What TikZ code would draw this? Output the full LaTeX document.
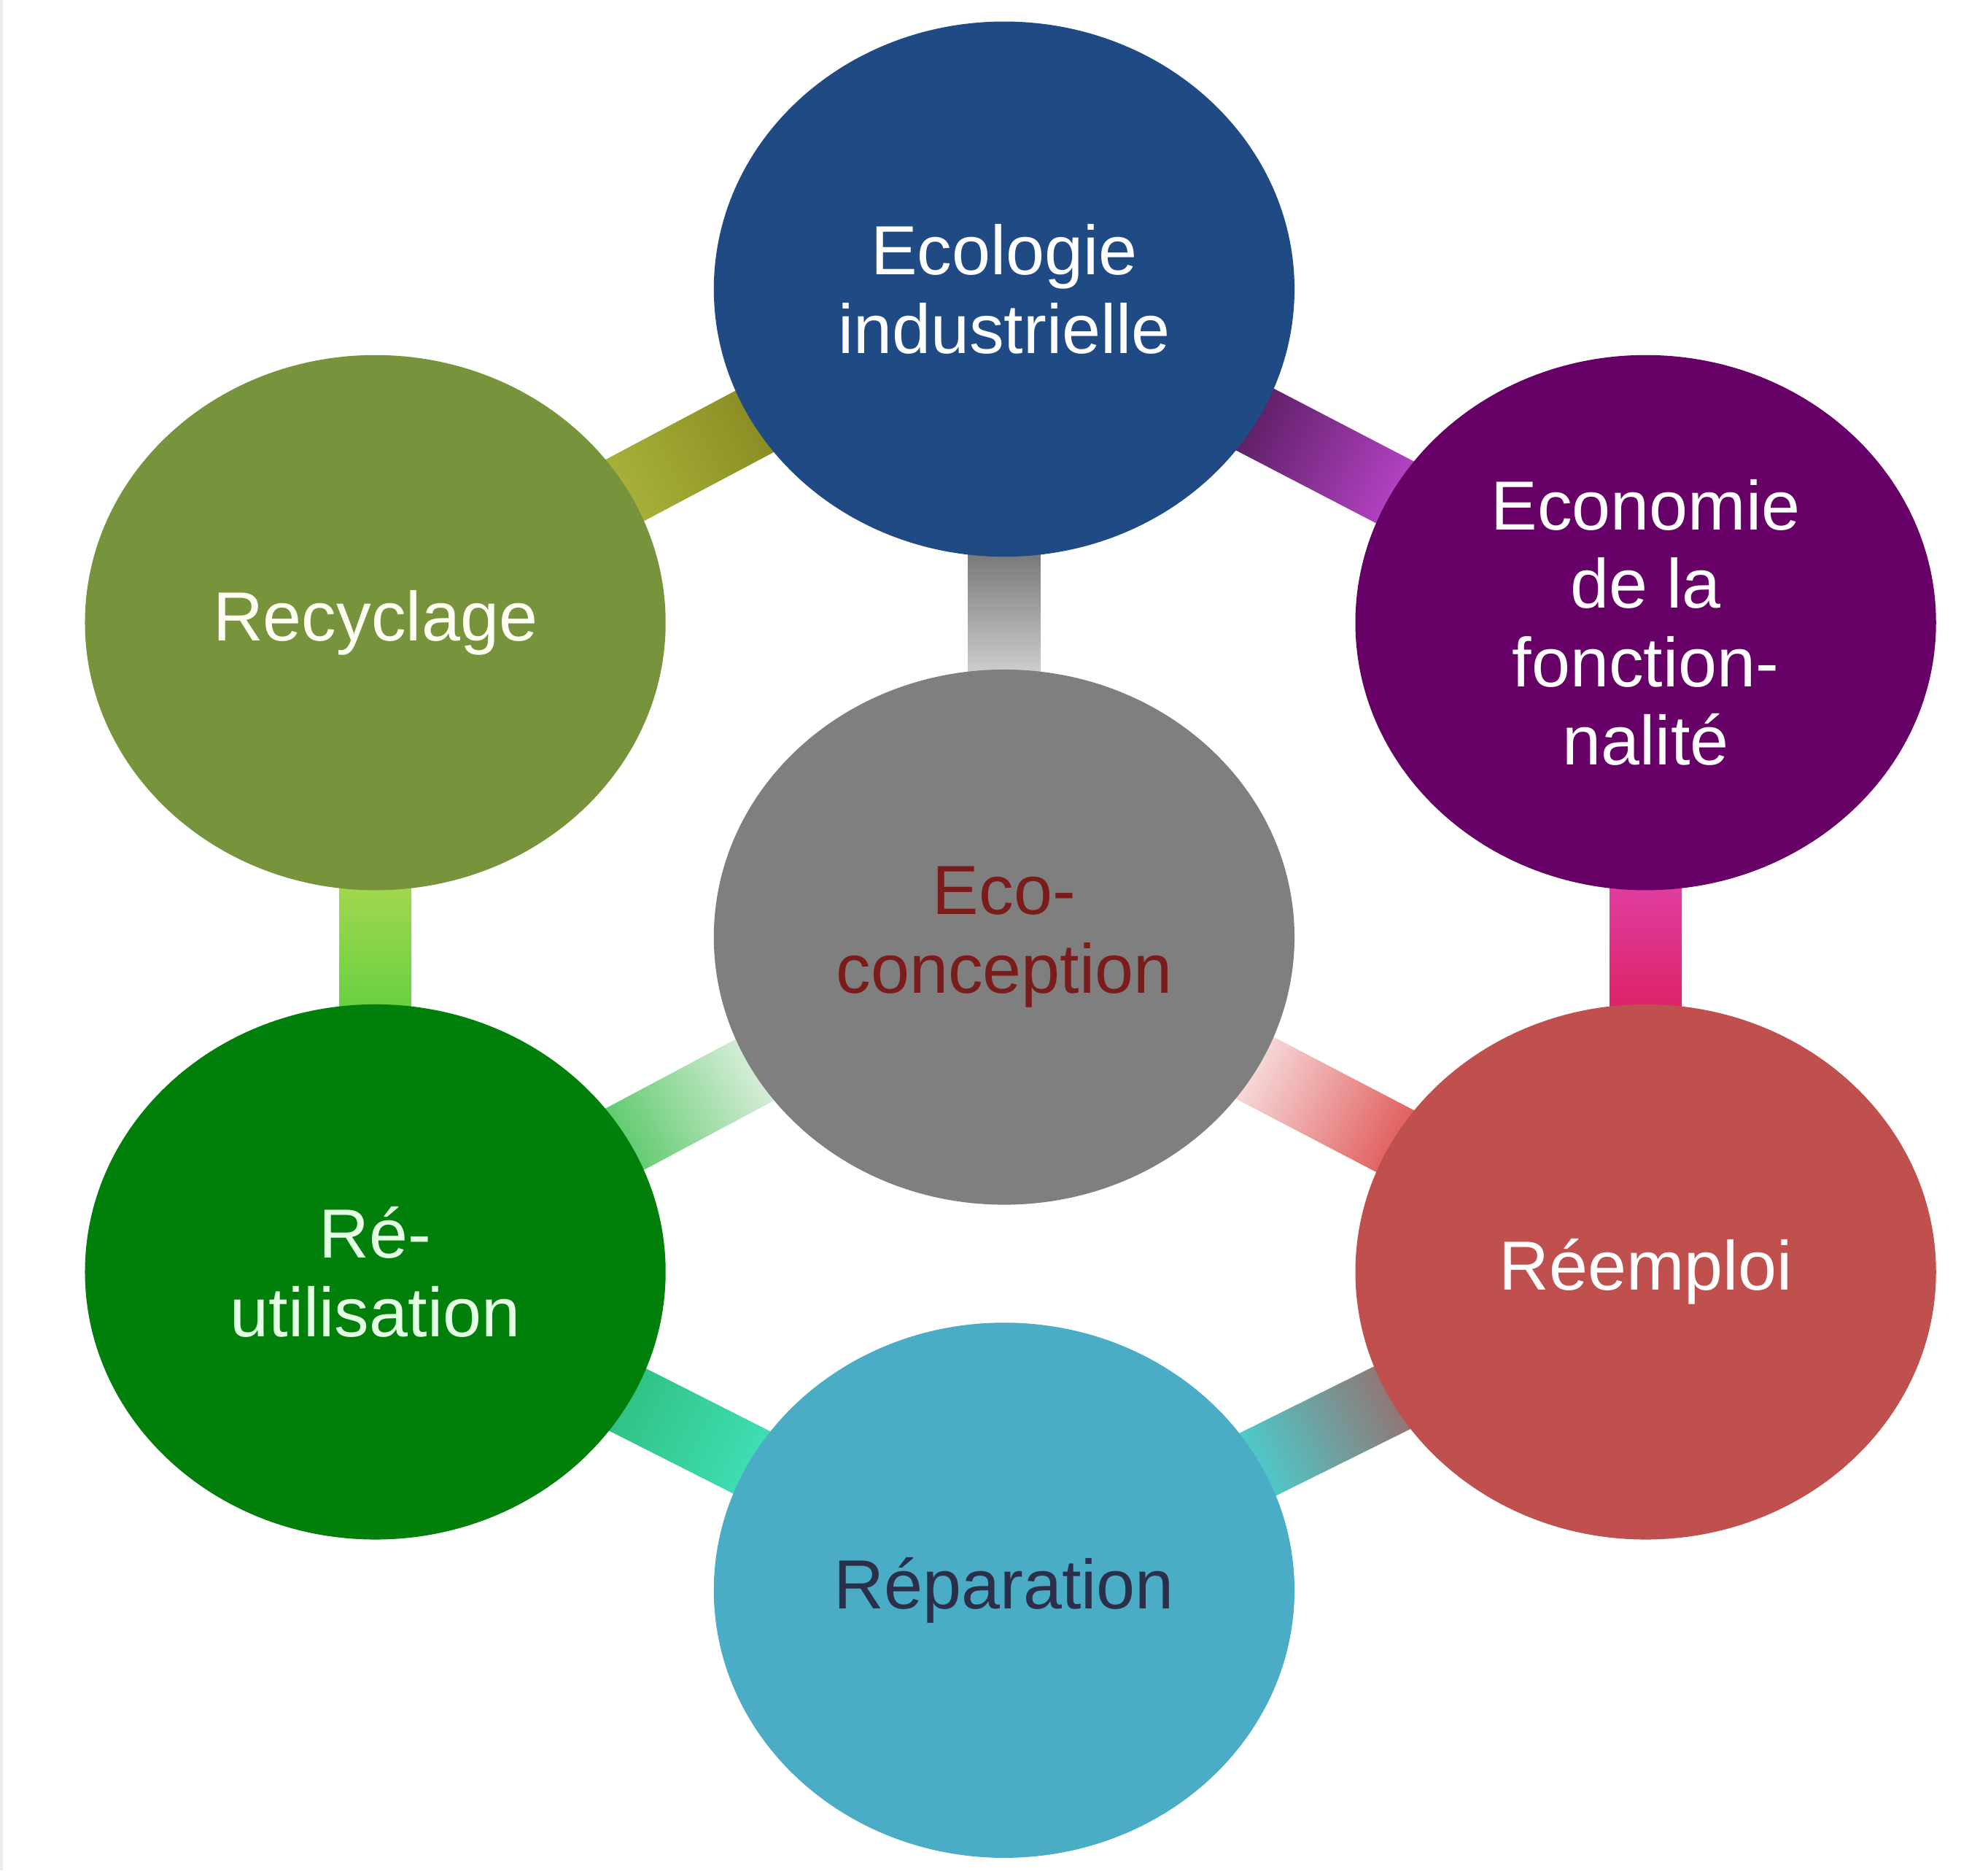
\documentclass[tikz,border=0pt]{standalone}
\usepackage{fontspec}
\setmainfont{Liberation Sans}
\usepackage{xcolor}
\usepackage{tikz}
\usetikzlibrary{calc,shapes.geometric}
\pgfdeclarelayer{background}
\pgfsetlayers{background,main}
\definecolor{ecolblue}{HTML}{1F4A84}
\definecolor{econpurple}{HTML}{660066}
\definecolor{reemred}{HTML}{C0504D}
\definecolor{repaaqua}{HTML}{4BACC6}
\definecolor{reutgreen}{HTML}{00800A}
\definecolor{recyolive}{HTML}{77933C}
\definecolor{ecogray}{HTML}{7F7F7F}
\definecolor{ecotext}{HTML}{7A1C1C}
\definecolor{repatext}{HTML}{2B2F4A}
% bar ends
\definecolor{oliveA}{HTML}{A9B43A}
\definecolor{oliveB}{HTML}{8A8A22}
\definecolor{plumA}{HTML}{5A1E62}
\definecolor{plumB}{HTML}{B844C8}
\definecolor{pinkA}{HTML}{E040A8}
\definecolor{pinkB}{HTML}{DC2060}
\definecolor{rustA}{HTML}{96706E}
\definecolor{rustB}{HTML}{48D0D0}
\definecolor{mintA}{HTML}{40E0B8}
\definecolor{mintB}{HTML}{30C080}
\definecolor{limeA}{HTML}{60D040}
\definecolor{limeB}{HTML}{A8D850}
\definecolor{greyA}{HTML}{D8D8D8}
\definecolor{greyB}{HTML}{6E6E6E}
\definecolor{roseA}{HTML}{F8E0E0}
\definecolor{roseB}{HTML}{E05858}
\definecolor{sageA}{HTML}{E0F0E0}
\definecolor{sageB}{HTML}{58C868}
% bar between two bubbles: from, to, from colour, to colour, shading angle
\newcommand{\bond}[5]{%
  \path (#1) -- (#2) coordinate[pos=0] (#1-#2-p) coordinate[pos=1] (#1-#2-q);
  \coordinate (#1-#2-s) at ($(#1-#2-p)!-1.5mm!(#1-#2-q)$);
  \coordinate (#1-#2-e) at ($(#1-#2-q)!-1.5mm!(#1-#2-p)$);
  \shade[bottom color=#3, top color=#4, shading angle=#5]
    ($(#1-#2-s)!2.85mm!90:(#1-#2-e)$) -- ($(#1-#2-e)!2.85mm!-90:(#1-#2-s)$)
    -- ($(#1-#2-e)!2.85mm!90:(#1-#2-s)$) -- ($(#1-#2-s)!2.85mm!-90:(#1-#2-e)$) -- cycle;}

\begin{document}
\begin{tikzpicture}[bubble/.style={ellipse, minimum width=4.58cm, minimum height=4.22cm, inner sep=0pt, align=center, text=white, font=\fontsize{15.6}{17.6}\selectfont}]
\useasboundingbox (0,0) rectangle (15.68,14.75);
\fill[gray!15] (0,0) rectangle (0.025,14.75);
% bubbles
\node[bubble, fill=ecolblue] (ecol) at (7.92,12.47) {Ecologie\\industrielle};
\node[bubble, fill=econpurple] (econ) at (12.98,9.84) {Economie\\de la\\fonction-\\nalité};
\node[bubble, fill=reemred] (reem) at (12.98,4.72) {Réemploi};
\node[bubble, fill=repaaqua, text=repatext] (repa) at (7.92,2.21) {Réparation};
\node[bubble, fill=reutgreen, text=green!10] (reut) at (2.96,4.72) {Ré-\\utilisation};
\node[bubble, fill=recyolive, text=yellow!5] (recy) at (2.96,9.84) {Recyclage};
\node[bubble, fill=ecogray, text=ecotext] (eco) at (7.92,7.36) {Eco-\\conception};
% bars
\begin{pgfonlayer}{background}
\bond{recy}{ecol}{oliveA}{oliveB}{-62.1}
\bond{ecol}{econ}{plumA}{plumB}{-117.5}
\bond{econ}{reem}{pinkA}{pinkB}{-180}
\bond{reem}{repa}{rustA}{rustB}{116.4}
\bond{repa}{reut}{mintA}{mintB}{63.2}
\bond{reut}{recy}{limeA}{limeB}{0}
\bond{eco}{ecol}{greyA}{greyB}{0}
\bond{eco}{reem}{roseA}{roseB}{-117.6}
\bond{eco}{reut}{sageA}{sageB}{118}
\end{pgfonlayer}
\end{tikzpicture}
\end{document}
